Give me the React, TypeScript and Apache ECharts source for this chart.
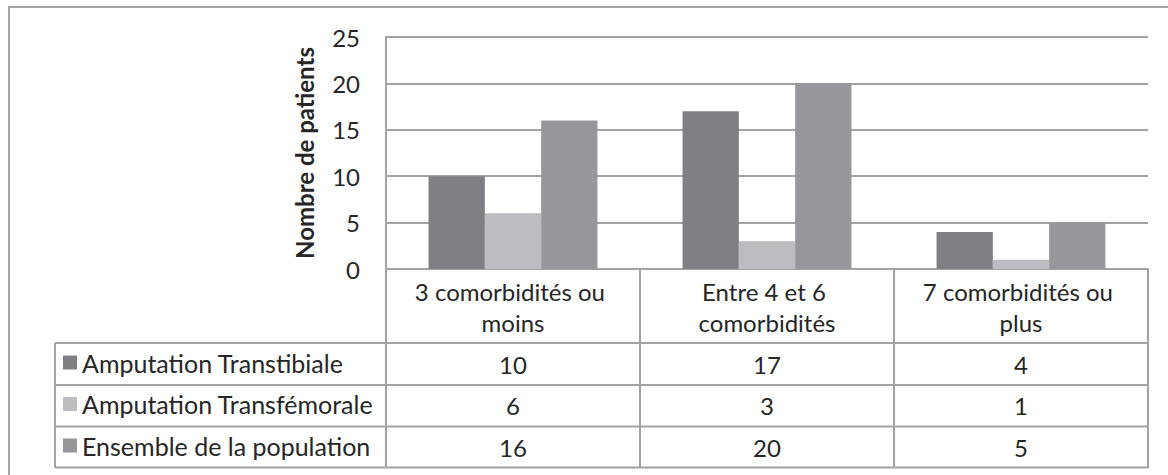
import React, { useEffect, useRef } from "react";
import * as echarts from "echarts";

const categories = ["3 comorbidités ou moins", "Entre 4 et 6 comorbidités", "7 comorbidités ou plus"];
const seriesNames = ["Amputation Transtibiale", "Amputation Transfémorale", "Ensemble de la population"];
const transtibiale = [10, 17, 4];
const transfemorale = [6, 3, 1];
const ensemble = [16, 20, 5];
const seriesValues = [transtibiale, transfemorale, ensemble];
const colors = ["#7f8084", "#bcbdc0", "#96979a"];
const yAxisName = "Nombre de patients";

const FONT = "Lato";
const TEXT = "#262626";
const LINE = "#a3a3a3";

export default function App() {
  const ref = useRef<HTMLDivElement>(null);
  useEffect(() => {
    const chart = echarts.init(ref.current!, null, { renderer: "svg" });
    chart.setOption({
      animation: false,
      textStyle: { fontFamily: FONT },
      grid: { left: 386, right: 20, top: 37, bottom: 206 },
      legend: {
        data: seriesNames,
        orient: "vertical",
        left: 58,
        top: 345,
        padding: 5,
        itemWidth: 14,
        itemHeight: 14,
        itemGap: 16.5,
        icon: "rect",
        selectedMode: false,
        textStyle: { fontFamily: FONT, fontSize: 25, color: TEXT },
      },
      xAxis: {
        type: "category",
        data: categories,
        axisLine: { show: true, lineStyle: { color: LINE, width: 2 } },
        axisTick: { show: true, length: 199, interval: 0, lineStyle: { color: LINE, width: 2 } },
        axisLabel: {
          interval: 0,
          width: 235,
          overflow: "break",
          fontFamily: FONT,
          fontSize: 24,
          lineHeight: 31,
          margin: 7,
          color: TEXT,
        },
      },
      yAxis: {
        type: "value",
        min: 0,
        max: 25,
        interval: 5,
        name: yAxisName,
        nameLocation: "middle",
        nameGap: 70,
        nameTextStyle: { fontFamily: FONT, fontSize: 24, fontWeight: "bold", color: TEXT },
        axisLine: { show: true, lineStyle: { color: LINE, width: 2 } },
        axisTick: { show: false },
        axisLabel: { fontFamily: FONT, fontSize: 24, color: TEXT, margin: 26 },
        splitLine: { show: true, lineStyle: { color: LINE, width: 2 } },
      },
      series: seriesValues.map((vals, i) => ({
        type: "bar",
        name: seriesNames[i],
        data: vals,
        barGap: "0%",
        barCategoryGap: "33.5%",
        itemStyle: { color: colors[i] },
      })),
    });

    const xs = categories.map((_, i) => chart.convertToPixel({ xAxisIndex: 0 }, i) as number);
    const rowLines = [343, 385, 426.5, 467.5];
    const rowCenters = [364, 405.75, 447];
    const graphic: any[] = [
      {
        type: "rect",
        shape: { x: 9, y: 7, width: 1200, height: 500 },
        style: { fill: "none", stroke: LINE, lineWidth: 2 },
        silent: true,
      },
      {
        type: "line",
        shape: { x1: 55, y1: 343, x2: 55, y2: 467.5 },
        style: { stroke: LINE, lineWidth: 2 },
      },
      ...rowLines.map((y) => ({
        type: "line",
        shape: { x1: 55, y1: y, x2: 1148, y2: y },
        style: { stroke: LINE, lineWidth: 2 },
      })),
    ];
    seriesValues.forEach((vals, r) => {
      vals.forEach((v, c) => {
        graphic.push({
          type: "text",
          x: xs[c],
          y: rowCenters[r],
          style: {
            text: String(v),
            fontFamily: FONT,
            fontSize: 24,
            fill: TEXT,
            align: "center",
            verticalAlign: "middle",
          },
        });
      });
    });
    chart.setOption({ graphic });
    return () => chart.dispose();
  }, []);
  return (
    <div
      ref={ref}
      style={{ position: "absolute", left: 0, top: 0, width: 1168, height: 475, background: "#fff" }}
    />
  );
}
